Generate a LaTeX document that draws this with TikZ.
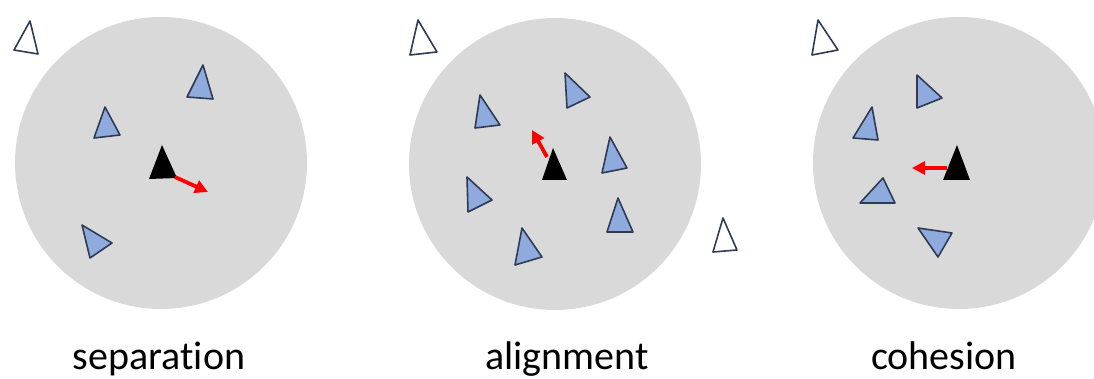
\documentclass[tikz,border=0pt]{standalone}
\usepackage{fontspec}
\setmainfont{Carlito}[Ligatures=NoCommon]
\usetikzlibrary{arrows.meta}

\definecolor{ZoneColor}{HTML}{D9D9D9}
\definecolor{BoidColor}{HTML}{8FAADC}
\definecolor{BoidEdge}{HTML}{2F3B55}
\definecolor{SteerColor}{HTML}{FF0000}

\begin{document}
\begin{tikzpicture}[x=0.5pt,y=-0.5pt,
  boid/.style={draw=BoidEdge,fill=BoidColor,line width=0.8pt,line join=round},
  stray/.style={draw=BoidEdge,fill=white,line width=0.8pt,line join=round},
  focal/.style={fill=black},
  steer/.style={draw=SteerColor,line width=1.9pt,-{Triangle[length=6.5pt,width=6.5pt]}},
  caption/.style={font=\fontsize{20}{24}\selectfont,anchor=base}]
  % ===== Parámetros =====
  \def\rad{146}
  \useasboundingbox (0,0) rectangle (1094,379);

  % ===== Zonas de vecindad =====
  \foreach \cx/\cy in {161/163, 555/164, 959/163}
    \fill[ZoneColor] (\cx,\cy) circle (\rad);

  % ===== Vecinos (azul) =====
  \foreach \ax/\ay/\bx/\by/\cx/\cy in {
      203/65/187/97/213/99, 105/107/94/138/120/135, 82/225/90/258/112/243,
      565/73/567/108/590/97, 480/95/475/128/500/125, 610/137/602/173/627/168,
      467/177/468/212/492/200, 618/198/607/232/633/232, 522/228/515/265/542/257,
      917/75/917/108/942/98, 872/107/853/138/878/140, 883/178/860/203/895/203,
      918/228/952/233/938/257}
    \filldraw[boid] (\ax,\ay) -- (\bx,\by) -- (\cx,\cy) -- cycle;

  % ===== Fuera de la zona =====
  \foreach \ax/\ay/\bx/\by/\cx/\cy in {
      30/21/14/50/38/54, 418/20/410/55/437/52,
      723/218/713/252/737/250, 818/20/812/55/838/50}
    \filldraw[stray] (\ax,\ay) -- (\bx,\by) -- (\cx,\cy) -- cycle;

  % ===== Boid central + dirección =====
  \coordinate (sepFrom)   at (175,177);
  \coordinate (sepTo)     at (208,192);
  \coordinate (alignFrom) at (547,157);
  \coordinate (alignTo)   at (532,130);
  \coordinate (cohFrom)   at (947,168);
  \coordinate (cohTo)     at (912,168);

  \foreach \ax/\ay/\bx/\by/\cx/\cy in {
      162/145/149/179/177/178, 553/148/542/180/567/180, 957/145/943/180/970/180}
    \fill[focal] (\ax,\ay) -- (\bx,\by) -- (\cx,\cy) -- cycle;

  \draw[steer] (sepFrom) -- (sepTo);
  \draw[steer] (alignFrom) -- (alignTo);
  \draw[steer] (cohFrom) -- (cohTo);

  % ===== Etiquetas =====
  \node[caption] (sepLabel)   at (159,370) {separation};
  \node[caption] (alignLabel) at (567,370) {alignment};
  \node[caption] (cohLabel)   at (944,370) {cohesion};
\end{tikzpicture}
\end{document}
